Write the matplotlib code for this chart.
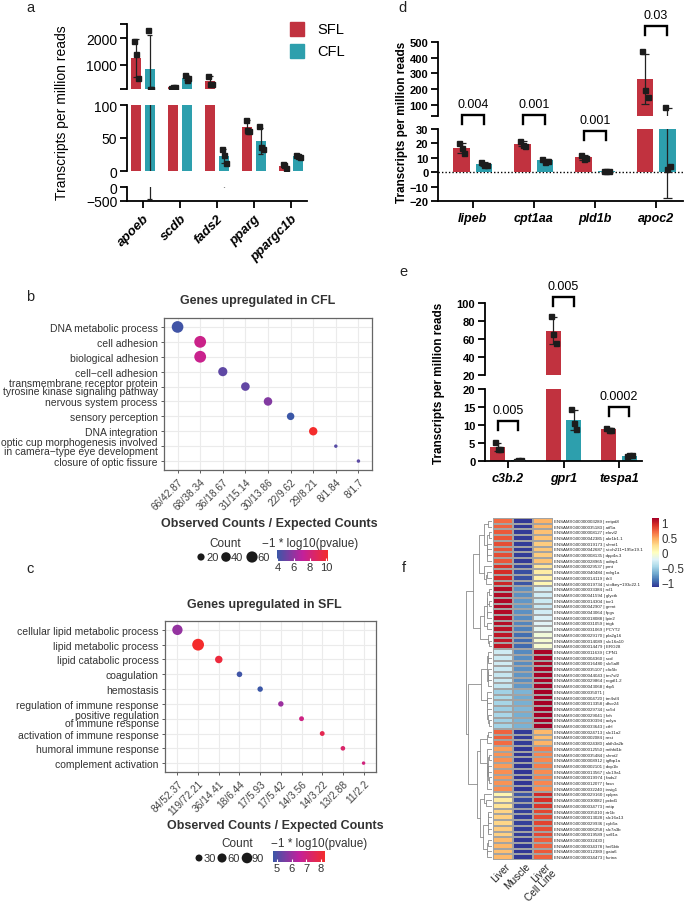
import numpy as np
import matplotlib
matplotlib.use("Agg")
import matplotlib.pyplot as plt
from matplotlib.colors import LinearSegmentedColormap, Normalize
from matplotlib.cm import ScalarMappable
from matplotlib.patches import Rectangle
from matplotlib.transforms import blended_transform_factory

plt.rcParams["font.family"] = ["Liberation Sans", "DejaVu Sans"]

W, H = 685, 904
SFL_COLOR = "#c1323f"
CFL_COLOR = "#2d9fad"

# ---- data -------------------------------------------------------------
# panel a (three replicates per group)
a_genes = ["apoeb", "scdb", "fads2", "pparg", "ppargc1b"]
a_sfl = [[1900, 1400, 500], [140, 170, 200], [610, 300, 300], [78, 62, 60], [10, 9, 5]]
a_cfl = [[2300, 120, 120], [630, 440, 500], [33, 24, 12], [68, 36, 33], [24, 22, 21]]

# panel d
d_genes = ["lipeb", "cpt1aa", "pld1b", "apoc2"]
d_sfl = [[20.5, 17, 13], [22, 19, 18.5], [12, 9, 10], [445, 195, 150]]
d_cfl = [[7, 5, 5], [9.5, 7, 8], [0.5, 0.5, 0.5], [90, 2, 4]]
d_pvals = ["0.004", "0.001", "0.001", "0.03"]

# panel e
e_genes = ["c3b.2", "gpr1", "tespa1"]
e_sfl = [[5.2, 3.4, 3.2], [86, 66, 56], [9.3, 8.7, 8.5]]
e_cfl = [[0.1, 0.2, 0.15], [14.5, 10.5, 9], [1.3, 1.6, 1.6]]
e_pvals = ["0.005", "0.005", "0.0002"]

# panel b (GO terms, CFL)
b_terms = ["DNA metabolic process", "cell adhesion", "biological adhesion",
           "cell\u2212cell adhesion",
           "transmembrane receptor protein\ntyrosine kinase signaling pathway",
           "nervous system process", "sensory perception", "DNA integration",
           "optic cup morphogenesis involved\nin camera\u2212type eye development",
           "closure of optic fissure"]
b_ratio = ["66/42.87", "68/38.34", "68/38.34", "36/18.67", "31/15.14",
           "30/13.86", "22/9.62", "29/8.21", "8/1.84", "8/1.7"]
b_count = [66, 68, 68, 36, 31, 30, 22, 29, 8, 8]
b_logp = [4.1, 7.6, 7.5, 4.8, 4.9, 5.6, 3.95, 10.2, 4.6, 4.7]

# panel c (GO terms, SFL)
c_terms = ["cellular lipid metabolic process", "lipid metabolic process",
           "lipid catabolic process", "coagulation", "hemostasis",
           "regulation of immune response", "positive regulation\nof immune response",
           "activation of immune response", "humoral immune response",
           "complement activation"]
c_ratio = ["84/52.37", "119/72.21", "36/14.41", "18/6.44", "17/5.93",
           "17/5.42", "14/3.56", "14/3.22", "13/2.88", "11/2.2"]
c_count = [84, 119, 36, 18, 17, 17, 14, 14, 13, 11]
c_logp = [5.9, 8.27, 8.0, 4.8, 4.73, 6.0, 6.9, 7.7, 7.3, 7.0]

# panel f (row-scaled expression: Liver, Muscle, Liver Cell Line)
f_cols = ["Liver", "Muscle", "Liver\nCell Line"]
f_genes = [
    "ENSAMXG00000003289 | entpd8", "ENSAMXG00000035183 | atf5a",
    "ENSAMXG00000008127 | elovl2", "ENSAMXG00000042385 | akr1b1.1",
    "ENSAMXG00000019173 | shmt1", "ENSAMXG00000042687 | si:ch211\u2212195e19.1",
    "ENSAMXG00000008135 | dpp4a.3", "ENSAMXG00000028965 | adtrp1",
    "ENSAMXG00000029537 | pmt", "ENSAMXG00000040484 | ndrg1a",
    "ENSAMXG00000014119 | tlr3", "ENSAMXG00000019734 | si:dkey\u2212193c22.1",
    "ENSAMXG00000033384 | rcl1", "ENSAMXG00000041594 | glyctk",
    "ENSAMXG00000014304 | tor1", "ENSAMXG00000042907 | gnmt",
    "ENSAMXG00000043064 | fpgs", "ENSAMXG00000018088 | lpin2",
    "ENSAMXG00000031059 | trigk", "ENSAMXG00000031069 | PCYT2",
    "ENSAMXG00000029170 | pla2g16", "ENSAMXG00000014089 | slc16a10",
    "ENSAMXG00000014479 | ERG28", "ENSAMXG00000011639 | CPN1",
    "ENSAMXG00000004360 | scd", "ENSAMXG00000016480 | slc5a8l",
    "ENSAMXG00000035107 | clic5b", "ENSAMXG00000044043 | tm7sf2",
    "ENSAMXG00000029864 | rogdl1.2", "ENSAMXG00000043068 | rbp5",
    "ENSAMXG00000035071 | ", "ENSAMXG00000004720 | tm4sf4",
    "ENSAMXG00000013358 | dhcr24", "ENSAMXG00000029734 | sc5d",
    "ENSAMXG00000029041 | fah", "ENSAMXG00000030394 | aclya",
    "ENSAMXG00000033643 | cthl", "ENSAMXG00000024713 | slc11a2",
    "ENSAMXG00000002084 | rest", "ENSAMXG00000024380 | aldh3a2b",
    "ENSAMXG00000012550 | mthfd1b", "ENSAMXG00000035484 | shmt2",
    "ENSAMXG00000008912 | igfbp1a", "ENSAMXG00000002101 | dop1b",
    "ENSAMXG00000013567 | slc19a1", "ENSAMXG00000019974 | fads2",
    "ENSAMXG00000012077 | fasn", "ENSAMXG00000032240 | insig1",
    "ENSAMXG00000029160 | cplpra", "ENSAMXG00000030082 | pcbd1",
    "ENSAMXG00000034773 | mttp", "ENSAMXG00000035010 | rtr1b",
    "ENSAMXG00000013028 | slc16a13", "ENSAMXG00000029936 | cyb5a",
    "ENSAMXG00000006258 | slc7a3b", "ENSAMXG00000019589 | sall1a",
    "ENSAMXG00000032430 | ", "ENSAMXG00000034378 | hnf1bb",
    "ENSAMXG00000012389 | gata6", "ENSAMXG00000034473 | furina",
]
f_liver = [0.70, 0.72, 0.76, 0.77, 0.80, 0.78, 0.80, 0.77, 0.90, 0.93, 0.95, 0.97,
           1.08, 1.09, 1.10, 1.10, 1.09, 1.08, 1.07, 1.06, 1.04, 1.03, 1.03,
           -0.30, -0.32, -0.30, -0.33, -0.35, -0.32, -0.36,
           -0.50, -0.45, -0.48, -0.52, -0.47, -0.50, -0.49,
           0.72, 0.74, 0.70, 0.52, 0.55, 0.56, 0.53, 0.57, 0.54, 0.55, 0.58,
           0.08, 0.15, 0.20, 0.28, 0.30, 0.27, 0.32, 0.30, 0.40, 0.42, 0.38, 0.41]
f_muscle = [-1.14, -1.14, -1.13, -1.13, -1.12, -1.13, -1.12, -1.13, -1.08, -1.06, -1.05, -1.03,
            -0.80, -0.80, -0.78, -0.77, -0.80, -0.82, -0.85, -0.87, -0.94, -0.95, -0.96,
            -0.83, -0.81, -0.82, -0.80, -0.79, -0.81, -0.78,
            -0.65, -0.70, -0.67, -0.63, -0.68, -0.65, -0.66,
            -1.13, -1.13, -1.13, -1.15, -1.15, -1.15, -1.15, -1.15, -1.15, -1.15, -1.15,
            -1.03, -1.07, -1.09, -1.11, -1.12, -1.11, -1.12, -1.12, -1.14, -1.14, -1.14, -1.14]
f_cellline = [0.44, 0.42, 0.37, 0.36, 0.32, 0.35, 0.32, 0.36, 0.18, 0.13, 0.10, 0.06,
              -0.28, -0.29, -0.32, -0.33, -0.29, -0.26, -0.22, -0.19, -0.10, -0.08, -0.07,
              1.13, 1.13, 1.12, 1.13, 1.14, 1.13, 1.14,
              1.15, 1.15, 1.15, 1.15, 1.15, 1.15, 1.15,
              0.41, 0.39, 0.43, 0.63, 0.60, 0.59, 0.62, 0.58, 0.61, 0.60, 0.57,
              0.95, 0.92, 0.89, 0.83, 0.82, 0.84, 0.80, 0.82, 0.74, 0.72, 0.76, 0.73]

fig = plt.figure(figsize=(W / 100, H / 100), dpi=100)


def px_axes(x0, y0, x1, y1):
    return fig.add_axes([x0 / W, 1 - y1 / H, (x1 - x0) / W, (y1 - y0) / H])


# ---- broken-axis bar charts -------------------------------------------
OFF, BW, CAP = 0.185, 0.27, 0.07
JIT = np.array([-0.045, 0.0, 0.045])


def bar_panel(segs, xpx, xlim, genes, sfl, cfl, bold, tick_fs, lab_fs, rot, zero_line=False):
    x = np.arange(len(genes))
    groups = [(sfl, SFL_COLOR, -1), (cfl, CFL_COLOR, 1)]
    axes = []
    for k, (ylim, top, bot, ticks) in enumerate(segs):
        ax = px_axes(xpx[0], top, xpx[1], bot)
        ax.patch.set_alpha(0)
        for pts, col, sign in groups:
            xx = x + sign * OFF
            means = np.array([np.mean(p) for p in pts])
            sds = np.array([np.std(p, ddof=1) for p in pts])
            ax.bar(xx, means, BW, color=col, zorder=1)
            ax.vlines(xx, means - sds, means + sds, color="#222222", lw=0.9, zorder=2)
            # caps only where they fall inside this segment
            for xi, cy in zip(np.r_[xx, xx], np.r_[means - sds, means + sds]):
                if ylim[0] <= cy <= ylim[1]:
                    ax.hlines(cy, xi - CAP, xi + CAP, color="#222222", lw=0.9, zorder=2)
            for xi, p in zip(xx, pts):
                p = np.asarray(p, float)
                keep = (p >= ylim[0]) & (p <= ylim[1])
                ax.plot((xi + JIT)[keep], p[keep], "s", ms=3.6, color="#1c1c1c", zorder=3)
        if zero_line and ylim[0] < 0:
            ax.axhline(0, color="k", lw=1.0, ls=(0, (1, 1.5)), zorder=0)
        ax.set_xlim(xlim)
        ax.set_ylim(ylim)
        for s in ("top", "right"):
            ax.spines[s].set_visible(False)
        ax.spines["left"].set_linewidth(1.3)
        ax.set_yticks(ticks)
        ax.set_yticks(list(ylim), minor=True)
        ax.tick_params(axis="y", which="both", length=5, width=1.3, labelsize=tick_fs, pad=2)
        if bold:
            for t in ax.get_yticklabels():
                t.set_fontweight("bold")
        if k == len(segs) - 1:
            ax.spines["bottom"].set_linewidth(1.3)
            ax.set_xticks(x)
            if rot:
                ax.set_xticklabels(genes, rotation=rot, ha="right", rotation_mode="anchor",
                                   fontstyle="italic", fontweight="bold", fontsize=lab_fs)
            else:
                ax.set_xticklabels(genes, fontstyle="italic", fontweight="bold", fontsize=lab_fs)
            ax.tick_params(axis="x", length=5, width=1.3, pad=3)
        else:
            ax.spines["bottom"].set_visible(False)
            ax.set_xticks([])
        axes.append(ax)
    return axes


def brackets(ax, pvals, ypx, fs):
    tr = blended_transform_factory(ax.transData, fig.transFigure)
    for i, (p, yp) in enumerate(zip(pvals, ypx)):
        yb, yl = 1 - yp / H, 1 - (yp + 9) / H
        ax.plot([i - OFF, i - OFF, i + OFF, i + OFF], [yl, yb, yb, yl], color="k",
                lw=1.7, transform=tr, clip_on=False, solid_joinstyle="miter")
        ax.text(i, 1 - (yp - 11) / H, p, transform=tr, ha="center", va="center", fontsize=fs)


a_axes = bar_panel([((110, 2520), 25, 90, [1000, 2000]),
                    ((0, 100), 106, 172, [0, 50, 100]),
                    ((-500, 0), 188, 202, [-500, 0])],
                   (127, 307), (-0.43, 4.43), a_genes, a_sfl, a_cfl,
                   bold=False, tick_fs=10, lab_fs=9.5, rot=45)

d_axes = bar_panel([((30, 500), 43, 117, [100, 200, 300, 400, 500]),
                    ((-20, 30), 130, 202, [-20, -10, 0, 10, 20, 30])],
                   (438, 683), (-0.57, 3.44), d_genes, d_sfl, d_cfl,
                   bold=True, tick_fs=8, lab_fs=9, rot=0, zero_line=True)
brackets(d_axes[-1], d_pvals, [116, 116, 132, 27], 9)

e_axes = bar_panel([((20, 100), 304, 376, [20, 40, 60, 80, 100]),
                    ((0, 20), 390, 462, [0, 5, 10, 15, 20])],
                   (485, 642), (-0.41, 2.41), e_genes, e_sfl, e_cfl,
                   bold=True, tick_fs=8, lab_fs=9, rot=0)
brackets(e_axes[-1], e_pvals, [422, 298, 408], 9)

# ---- GO dot plots -----------------------------------------------------
go_cmap = LinearSegmentedColormap.from_list("go", ["#3b57a7", "#c2209c", "#f42c2c"])


def dot_size(c, cmin, cmax):
    return (2.5 + 6.0 * np.sqrt((np.asarray(c, float) - cmin) / (cmax - cmin))) ** 2


def dot_panel(box, terms, ratios, counts, logp):
    ax = px_axes(*box)
    xcats = list(dict.fromkeys(ratios))
    xs = [xcats.index(r) for r in ratios]
    ys = np.arange(len(terms))
    norm = Normalize(min(logp), max(logp))
    ax.scatter(xs, ys, s=dot_size(counts, min(counts), max(counts)), c=logp,
               cmap=go_cmap, norm=norm, zorder=3, linewidths=0)
    ax.set_xlim(-0.6, len(xcats) - 0.4)
    ax.set_ylim(len(terms) - 0.4, -0.6)
    ax.set_xticks(range(len(xcats)))
    ax.set_xticklabels(xcats, rotation=45, ha="right", rotation_mode="anchor",
                       fontsize=7.3, color="#444444")
    ax.set_yticks(ys)
    ax.set_yticklabels(terms, fontsize=7.5, color="#333333", linespacing=0.8)
    ax.grid(color="#ebebeb", lw=0.8)
    ax.set_axisbelow(True)
    for s in ax.spines.values():
        s.set_color("#666666")
        s.set_linewidth(0.9)
    ax.tick_params(length=2.5, width=0.6, color="#444444", pad=2)
    return norm


b_norm = dot_panel((164, 319, 372, 471), b_terms, b_ratio, b_count, b_logp)
c_norm = dot_panel((165, 622, 376, 773), c_terms, c_ratio, c_count, c_logp)

# ---- heatmap with dendrogram -----------------------------------------
mat = np.column_stack([f_liver, f_muscle, f_cellline])
nrow = len(f_genes)
hm_norm = Normalize(mat.min(), mat.max())
ax_hm = px_axes(493, 519, 553, 861)
ax_hm.pcolormesh(mat, cmap="RdYlBu_r", norm=hm_norm, edgecolors="#a3a3a3", linewidth=0.35)
ax_hm.set_xlim(0, 3)
ax_hm.set_ylim(nrow, 0)
ax_hm.axis("off")
for i, g in enumerate(f_genes):
    ax_hm.text(3.06, i + 0.5, g, fontsize=3.2, va="center", ha="left", color="#222222")
for j, c in enumerate(f_cols):
    ax_hm.text(j + 0.6, nrow + 0.15, c, rotation=45, ha="right", va="top",
               rotation_mode="anchor", fontsize=7.3, linespacing=0.85, color="#222222")


def ordered_linkage(m):
    # average linkage, merging only neighbouring clusters so the row order is kept
    clusters = [[i] for i in range(len(m))]
    pos = [i + 0.5 for i in range(len(m))]
    hts = [0.0] * len(m)
    links = []
    while len(clusters) > 1:
        d = [np.mean(np.linalg.norm(m[clusters[k]][:, None] - m[clusters[k + 1]][None], axis=2))
             for k in range(len(clusters) - 1)]
        k = int(np.argmin(d))
        h = max(d[k], hts[k], hts[k + 1])
        links.append((pos[k], pos[k + 1], hts[k], hts[k + 1], h))
        clusters[k] = clusters[k] + clusters.pop(k + 1)
        pos[k] = (pos[k] + pos.pop(k + 1)) / 2
        hts[k] = h
        hts.pop(k + 1)
    return links


ax_dg = px_axes(466, 519, 492, 861)
links = ordered_linkage(mat)
top_h = np.sqrt(max(l[4] for l in links))
for y0, y1, h0, h1, h in links:
    ax_dg.plot(np.sqrt([h0, h, h, h1]), [y0, y0, y1, y1], color="#8c8c8c", lw=0.6)
ax_dg.set_xlim(top_h * 1.01, 0)
ax_dg.set_ylim(nrow, 0)
ax_dg.axis("off")

cax_hm = px_axes(652, 519, 659, 588)
cb = fig.colorbar(ScalarMappable(hm_norm, "RdYlBu_r"), cax=cax_hm, ticks=[-1, -0.5, 0, 0.5, 1])
cb.outline.set_visible(False)
cb.ax.set_yticklabels(["\u22121", "\u22120.5", "0", "0.5", "1"])
cb.ax.tick_params(length=0, labelsize=8.3, pad=1.5, labelcolor="#333333")

# ---- colourbars of the dot plots -------------------------------------
for norm, box, ticks in ((b_norm, (277, 551, 328, 562), [4, 6, 8, 10]),
                         (c_norm, (273, 852, 325, 863), [5, 6, 7, 8])):
    cax = px_axes(*box)
    cbar = fig.colorbar(ScalarMappable(norm, go_cmap), cax=cax, orientation="horizontal", ticks=ticks)
    cbar.outline.set_visible(False)
    cbar.ax.tick_params(direction="in", length=2.5, color="white", labelsize=8,
                        labelcolor="#333333", pad=1)

# ---- overlay for free text and legends --------------------------------
ov = fig.add_axes([0, 0, 1, 1])
ov.set_xlim(0, W)
ov.set_ylim(H, 0)
ov.axis("off")
ov.patch.set_alpha(0)

for lab, (x, y) in zip("abcdef", [(30, 8), (30, 297), (30, 569), (403, 8), (403, 272), (404, 568)]):
    ov.text(x, y, lab, fontsize=10.5, ha="center", va="center", color="#222222")

ov.text(62, 113, "Transcripts per million reads", rotation=90, ha="center", va="center", fontsize=10)
ov.text(402, 122, "Transcripts per million reads", rotation=90, ha="center", va="center",
        fontsize=8.5, fontweight="bold")
ov.text(439, 383, "Transcripts per million reads", rotation=90, ha="center", va="center",
        fontsize=8.5, fontweight="bold")

for (lab, col), y in zip([("SFL", SFL_COLOR), ("CFL", CFL_COLOR)], [23, 45]):
    ov.add_patch(Rectangle((290, y), 14, 14, color=col))
    ov.text(317, y + 7.5, lab, fontsize=10.5, va="center", ha="left")

ov.text(258, 301, "Genes upregulated in CFL", fontsize=9, fontweight="bold", ha="center",
        va="center", color="#333333")
ov.text(264, 605, "Genes upregulated in SFL", fontsize=9, fontweight="bold", ha="center",
        va="center", color="#333333")
ov.text(269, 524, "Observed Counts / Expected Counts", fontsize=9, fontweight="bold",
        ha="center", va="center", color="#333333")
ov.text(275, 826, "Observed Counts / Expected Counts", fontsize=9, fontweight="bold",
        ha="center", va="center", color="#333333")

# size legends
for counts, vals, xs, yc, xt, ytit, xc in (
        (b_count, [20, 40, 60], [201, 226, 252], 558, 225, 544, 310),
        (c_count, [30, 60, 90], [199, 222, 247], 859, 237, 844, 319)):
    ov.text(xt, ytit, "Count", fontsize=8.5, ha="center", va="center", color="#333333")
    ov.text(xc, ytit, "\u22121 * log10(pvalue)", fontsize=8.5, ha="center", va="center",
            color="#333333")
    ov.scatter(xs, [yc] * 3, s=dot_size(vals, min(counts), max(counts)), color="#1a1a1a",
               linewidths=0)
    for x, v in zip(xs, vals):
        ov.text(x + 5, yc, str(v), fontsize=8, ha="left", va="center", color="#333333")

fig.savefig("out.png", dpi=100)
